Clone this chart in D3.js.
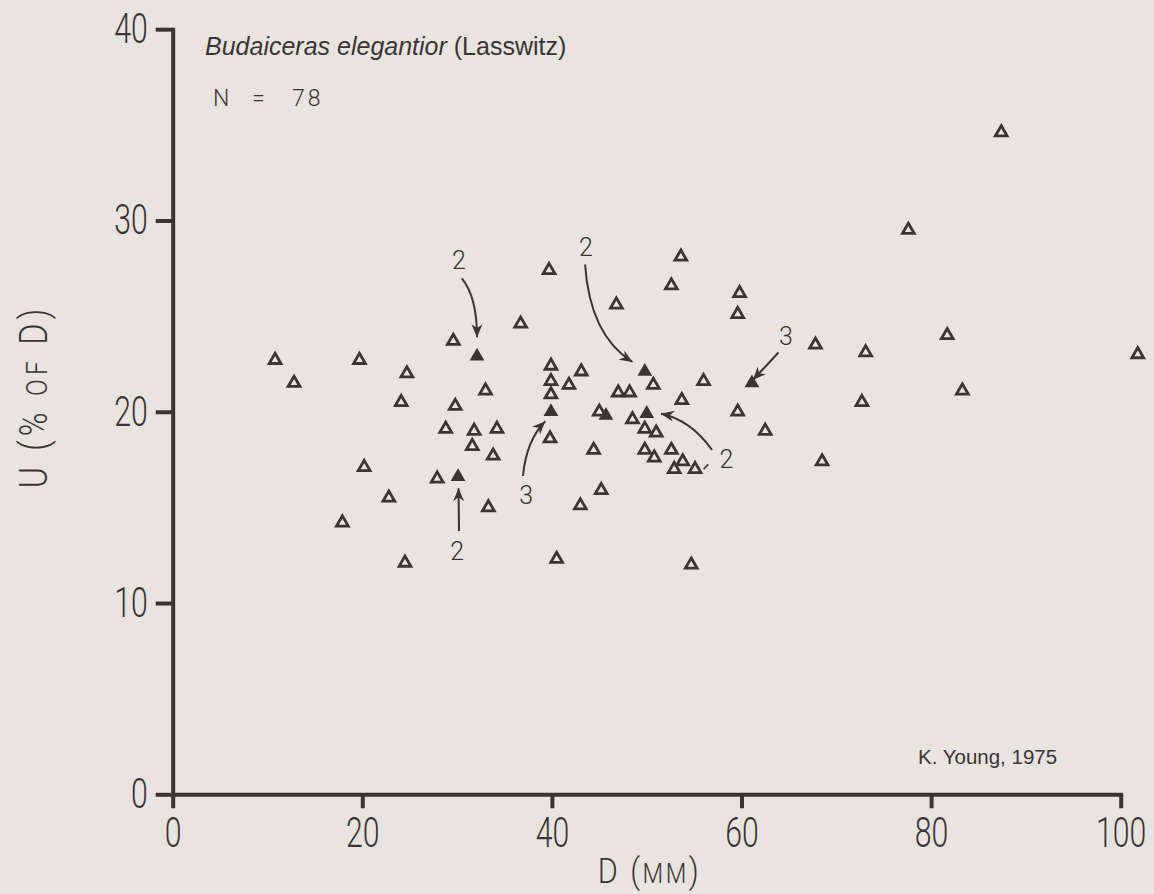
<!DOCTYPE html>
<html><head><meta charset="utf-8">
<script src="https://cdn.jsdelivr.net/npm/d3@7"></script>
<style>
html,body{margin:0;padding:0;background:#e9e4e0;}
svg{display:block}
</style></head><body>
<svg id="c" width="1154" height="894"></svg>
<script>
// ---- data ----
const xTicks = [0, 20, 40, 60, 80, 100];
const yTicks = [0, 10, 20, 30, 40];
// open triangles: D (mm), U (% of D)
const openD = [87.4,77.6,67.8,73.1,81.7,101.8,83.3,72.7,68.5,
  53.6,39.7,52.6,59.8,46.8,59.6,36.7,39.9,43.1,39.9,41.8,50.7,56.0,39.9,47.0,48.2,53.7,45.0,59.6,48.5,39.8,49.8,51.0,62.5,44.4,49.8,52.6,50.8,53.8,52.9,55.1,45.2,43.0,40.5,54.7,
  10.8,19.7,29.6,24.7,12.8,33.0,24.1,29.8,28.8,31.8,34.2,31.6,33.8,20.2,27.9,22.8,33.3,17.9,24.5];
const openU = [34.6,29.5,23.5,23.1,24.0,23.0,21.1,20.5,17.4,
  28.1,27.4,26.6,26.2,25.6,25.1,24.6,22.4,22.1,21.6,21.4,21.4,21.6,20.9,21.0,21.0,20.6,20.0,20.0,19.6,18.6,19.1,18.9,19.0,18.0,18.0,18.0,17.6,17.4,17.0,17.0,15.9,15.1,12.3,12.0,
  22.7,22.7,23.7,22.0,21.5,21.1,20.5,20.3,19.1,19.0,19.1,18.2,17.7,17.1,16.5,15.5,15.0,14.2,12.1];
// filled triangles (several specimens)
const filledD = [32.1,30.1,49.8,61.1,39.9,45.7,50.0];
const filledU = [22.9,16.6,22.1,21.5,20.0,19.8,19.9];
// annotations: label, label position, arrow start, control, end (data units)
const annoText = ["2","2","3","3","2","2"];
const annoD  = [30.2,43.6,64.7,37.3,30.0,58.4];
const annoU  = [27.9,28.6,23.96,15.65,12.7,17.5];
const arrowD0 = [30.5,43.5,63.9,36.95,30.2,56.9];
const arrowU0 = [26.97,27.7,23.1,16.64,13.76,18.0];
const arrowDc = [32.1,44.0,62.55,37.3,30.17,54.6];
const arrowUc = [26.0,24.0,22.38,18.5,14.9,19.6];
const arrowD1 = [32.1,48.5,61.2,39.3,30.15,51.5];
const arrowU1 = [23.9,22.6,21.66,19.5,16.0,19.9];

const INK = "#3b3434";
const svg = d3.select("#c");
const x = d3.scaleLinear().domain([0,100]).range([172.7,1120.7]);
const y = d3.scaleLinear().domain([0,40]).range([794.3,29.2]);
const SX = 0.72;
const numFont = "Roboto, 'DejaVu Sans', sans-serif";

// axes
const gx = svg.append("g").attr("transform",`translate(0,${y(0)})`)
  .call(d3.axisBottom(x).tickValues(xTicks).tickSize(14).tickSizeOuter(0).tickPadding(9).tickFormat(d3.format("d")));
const gy = svg.append("g").attr("transform",`translate(${x(0)},0)`)
  .call(d3.axisLeft(y).tickValues(yTicks).tickSize(17).tickSizeOuter(0).tickPadding(8).tickFormat(d3.format("d")));
[gx,gy].forEach(g=>{
  g.select(".domain").attr("stroke",INK).attr("stroke-width",4).attr("stroke-linecap","square");
  g.selectAll(".tick line").attr("stroke",INK).attr("stroke-width",4);
  g.selectAll(".tick text").attr("fill",INK).attr("font-family",numFont)
    .attr("font-weight",300).attr("font-size",42);
});
gx.selectAll(".tick text").attr("transform",`scale(${SX},1)`);
gy.selectAll(".tick text").attr("x",-25/SX).attr("transform",`scale(${SX},1)`);

// axis titles
const xt = svg.append("text").attr("transform",`translate(${x(50.3)},883) scale(0.85,1)`)
  .attr("text-anchor","middle").attr("fill",INK).attr("font-family",numFont).attr("font-weight",300)
  .attr("font-size",36).attr("letter-spacing",3);
xt.append("tspan").text("D (");
xt.append("tspan").attr("font-size",28).text("MM");
xt.append("tspan").text(")");

const yt = svg.append("text").attr("transform",`translate(47,${y(20.8)}) rotate(-90) scale(0.85,1)`)
  .attr("text-anchor","middle").attr("fill",INK).attr("font-family",numFont).attr("font-weight",300)
  .attr("font-size",38).attr("letter-spacing",5);
yt.append("tspan").text("U (% ");
yt.append("tspan").attr("font-size",29).text("OF");
yt.append("tspan").text(" D)");

// title
const tt = svg.append("text").attr("x",205).attr("y",55).attr("fill",INK)
  .attr("font-family","'Liberation Sans', Arial, sans-serif").attr("font-size",25);
tt.append("tspan").attr("font-style","italic").text("Budaiceras elegantior");
tt.append("tspan").text(" (Lasswitz)");
const nt = svg.append("text").attr("y",106).attr("fill",INK)
  .attr("font-family",numFont).attr("font-weight",300).attr("font-size",23);
nt.append("tspan").attr("x",213).text("N");
nt.append("tspan").attr("x",252).text("=");
nt.append("tspan").attr("x",292).attr("letter-spacing",3).text("78");
svg.append("text").attr("x",918).attr("y",764).attr("fill",INK)
  .attr("font-family","'Liberation Sans', Arial, sans-serif").attr("font-size",20.5).text("K. Young, 1975");

// points
const tri = d3.symbol().type(d3.symbolTriangle).size(60);
svg.append("g").selectAll("path").data(openD.map((d,i)=>[d,openU[i]])).join("path")
  .attr("d",tri).attr("transform",d=>`translate(${x(d[0])},${y(d[1])})`)
  .attr("fill","none").attr("stroke",INK).attr("stroke-width",2.8).attr("stroke-linejoin","miter");
const triF = d3.symbol().type(d3.symbolTriangle).size(95);
svg.append("g").selectAll("path").data(filledD.map((d,i)=>[d,filledU[i]])).join("path")
  .attr("d",triF).attr("transform",d=>`translate(${x(d[0])},${y(d[1])})`)
  .attr("fill",INK);

// annotations
const ag = svg.append("g");
annoText.forEach((t,i)=>{
  ag.append("text").attr("x",x(annoD[i])).attr("y",y(annoU[i])).attr("dy","0.35em")
    .attr("text-anchor","middle").attr("fill",INK).attr("font-family",numFont).attr("font-weight",300)
    .attr("font-size",25).text(t);
  const p0=[x(arrowD0[i]),y(arrowU0[i])], pc=[x(arrowDc[i]),y(arrowUc[i])], p1=[x(arrowD1[i]),y(arrowU1[i])];
  const path=d3.path(); path.moveTo(...p0); path.quadraticCurveTo(...pc,...p1);
  ag.append("path").attr("d",path.toString()).attr("fill","none").attr("stroke",INK).attr("stroke-width",2);
  const a=Math.atan2(p1[1]-pc[1],p1[0]-pc[0]);
  const L=13,W=5.5;
  const bx=p1[0]-L*Math.cos(a), by=p1[1]-L*Math.sin(a);
  const hp=d3.path(); hp.moveTo(...p1);
  hp.lineTo(bx+W*Math.sin(a), by-W*Math.cos(a));
  hp.lineTo(p1[0]-L*0.7*Math.cos(a), p1[1]-L*0.7*Math.sin(a));
  hp.lineTo(bx-W*Math.sin(a), by+W*Math.cos(a)); hp.closePath();
  ag.append("path").attr("d",hp.toString()).attr("fill",INK);
});
// small leader dash near lower right "2"
ag.append("line").attr("x1",x(56.0)).attr("y1",y(17.0)).attr("x2",x(56.5)).attr("y2",y(17.25))
  .attr("stroke",INK).attr("stroke-width",1.5);
</script>
</body></html>
